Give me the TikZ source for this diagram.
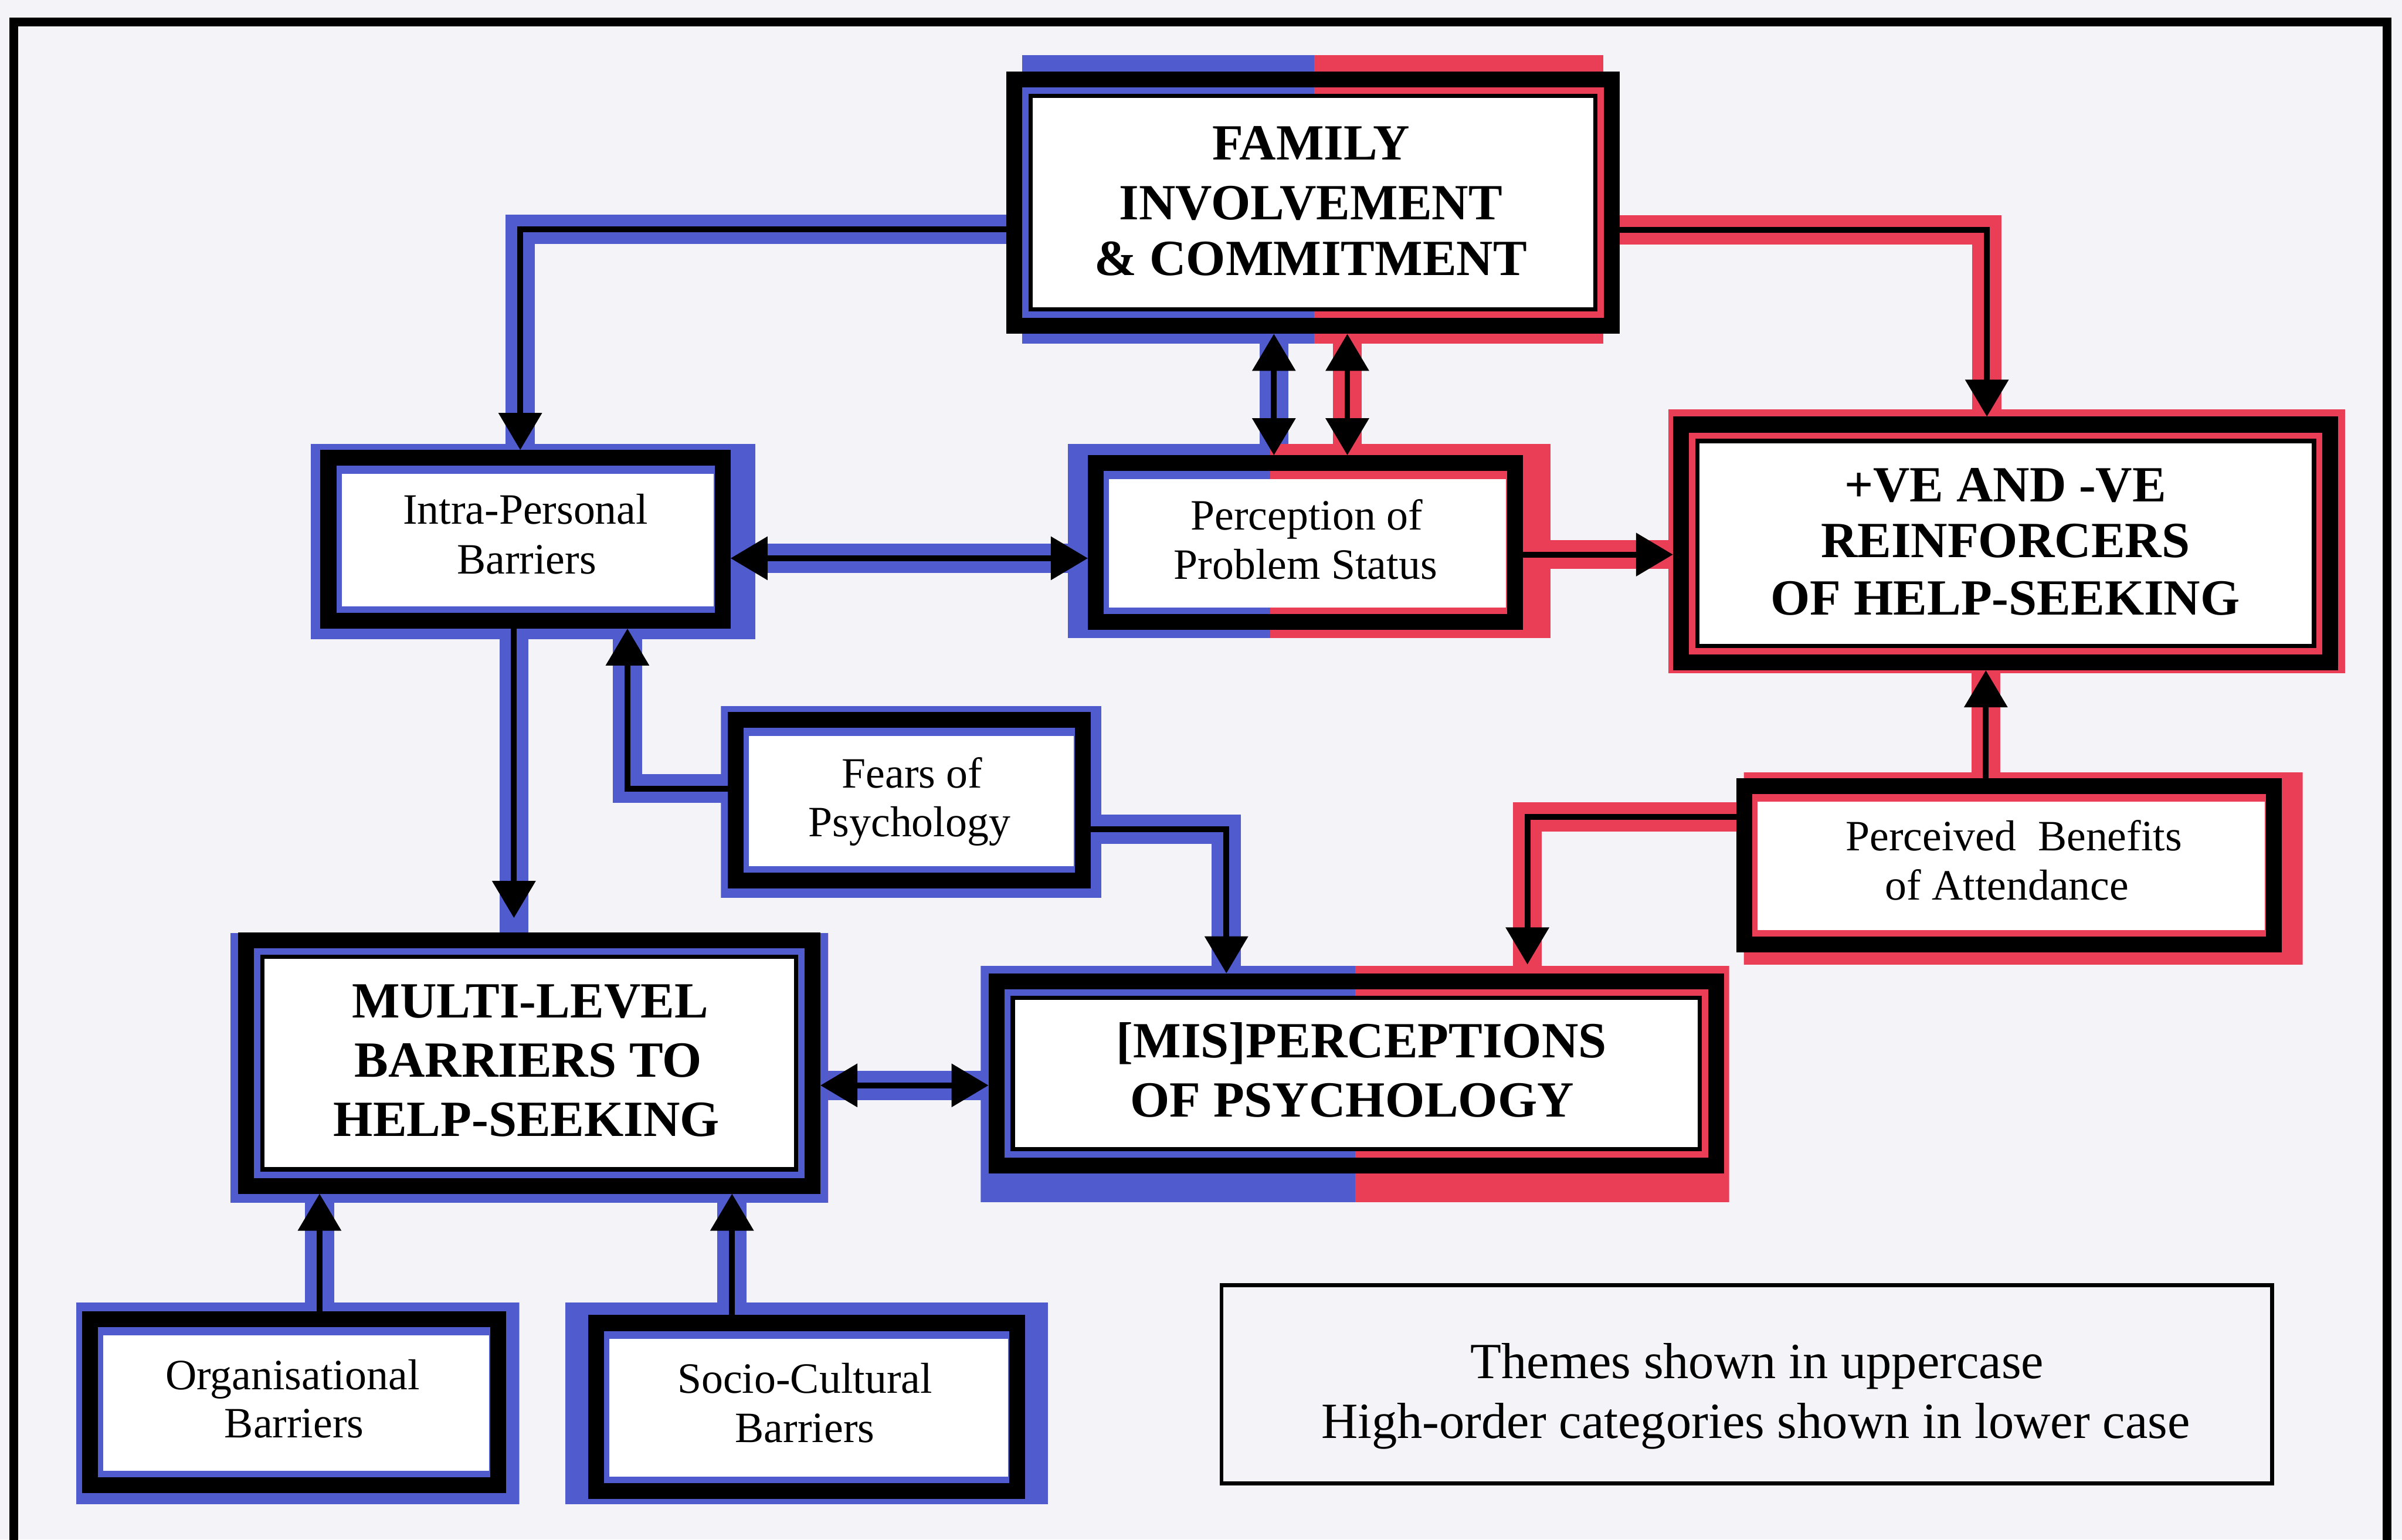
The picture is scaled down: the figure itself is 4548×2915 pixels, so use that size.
\documentclass[tikz,border=0pt]{standalone}
\usepackage{fontspec}
\setmainfont{Liberation Serif}
\usetikzlibrary{arrows.meta}
\definecolor{bcol}{RGB}{80,92,205}
\definecolor{rcol}{RGB}{234,62,86}
\definecolor{bgcol}{RGB}{244,243,248}
\pgfdeclarelayer{bgl}
\pgfdeclarelayer{bandl}
\pgfdeclarelayer{topl}
\pgfsetlayers{bgl,bandl,main,topl}
\newcommand\splitfill[5]{%
  \begin{scope}
    \clip (#1,#2) rectangle (#3,#4);
    \fill[bcol] (#1,#2) rectangle (#5,#4);
    \fill[rcol] (#5,#2) rectangle (#3,#4);
  \end{scope}}
\newcommand\catwhite[1]{%
  \fill[white] ([xshift=0.4cm,yshift=-0.45cm]#1.north west) rectangle ([xshift=-0.32cm,yshift=0.42cm]#1.south east);}
\newcommand\themewhite[1]{%
  \fill[white] ([xshift=0.5cm,yshift=-0.5cm]#1.north west) rectangle ([xshift=-0.5cm,yshift=0.5cm]#1.south east);
  \draw[line width=0.08cm] ([xshift=0.46cm,yshift=-0.46cm]#1.north west) rectangle ([xshift=-0.46cm,yshift=0.46cm]#1.south east);}
\tikzset{
  frameb/.style={draw=black, line width=0.3cm, inner sep=0pt, outer sep=0.15cm, rectangle},
  legbox/.style={draw=black, line width=0.07cm, inner sep=0pt, outer sep=0.035cm, rectangle},
  band/.style={line width=0.55cm},
  core/.style={draw=black, line width=0.11cm},
  tip/.style={-{Triangle[width=0.8cm,length=0.7cm]}},
  tips/.style={{Triangle[width=0.8cm,length=0.7cm]}-{Triangle[width=0.8cm,length=0.7cm]}},
  thtext/.style={font=\bfseries\fontsize{27.3}{32}\selectfont, inner sep=0pt, anchor=base},
  cattext/.style={font=\fontsize{23.3}{28}\selectfont, inner sep=0pt, anchor=base},
  legtext/.style={font=\fontsize{27.3}{32}\selectfont, inner sep=0pt, anchor=base},
}
\begin{document}
\begin{tikzpicture}[x=0.01cm,y=-0.01cm]
\useasboundingbox (0,0) rectangle (4548,2915);
\begin{pgfonlayer}{bgl}
\fill[bgcol] (0,0) rectangle (4548,2915);
\end{pgfonlayer}
\draw[line width=0.17cm] (26,2950) -- (26,42) -- (4520,42) -- (4520,2950);

% FAMILY INVOLVEMENT & COMMITMENT
\splitfill{1935}{104}{3036}{651}{2488}
\splitfill{1906}{136}{3066}{632}{2488}
\node[frameb, minimum width=11.30cm, minimum height=4.66cm] (fam) at (2486,384) {};
\themewhite{fam}
\node[thtext] (fam-t1) at (2482,303) {FAMILY};
\node[thtext] (fam-t2) at (2482,416) {INVOLVEMENT};
\node[thtext] (fam-t3) at (2482,521) {\& COMMITMENT};

% Intra-Personal Barriers
\splitfill{588}{840}{1430}{1210}{5000}
\splitfill{607}{852}{1383}{1190}{5000}
\node[frameb, minimum width=7.46cm, minimum height=3.08cm] (intra) at (995,1021) {};
\catwhite{intra}
\node[cattext] (intra-t1) at (995,992) {Intra-Personal};
\node[cattext] (intra-t2) at (997,1087) {Barriers};

% Perception of Problem Status
\splitfill{2022}{840}{2936}{1208}{2405}
\splitfill{2060}{862}{2883}{1192}{2405}
\node[frameb, minimum width=7.93cm, minimum height=3.00cm] (perc) at (2471.5,1027) {};
\catwhite{perc}
\node[cattext] (perc-t1) at (2474,1003) {Perception of};
\node[cattext] (perc-t2) at (2472,1097) {Problem Status};

% +VE AND -VE REINFORCERS
\splitfill{3159}{775}{4440}{1275}{0}
\splitfill{3168}{789}{4427}{1269}{0}
\node[frameb, minimum width=12.29cm, minimum height=4.50cm] (reinf) at (3797.5,1029) {};
\themewhite{reinf}
\node[thtext] (reinf-t1) at (3797,950) {+VE AND -VE};
\node[thtext] (reinf-t2) at (3797,1055) {REINFORCERS};
\node[thtext] (reinf-t3) at (3797,1164) {OF HELP-SEEKING};

% Fears of Psychology
\splitfill{1365}{1337}{2085}{1700}{5000}
\splitfill{1378}{1348}{2065}{1682}{5000}
\node[frameb, minimum width=6.57cm, minimum height=3.04cm] (fears) at (1721.5,1515) {};
\catwhite{fears}
\node[cattext] (fears-t1) at (1727,1492) {Fears of};
\node[cattext] (fears-t2) at (1722,1584) {Psychology};

% Perceived Benefits of Attendance
\splitfill{3302}{1462}{4360}{1827}{0}
\splitfill{3288}{1473}{4320}{1803}{0}
\node[frameb, minimum width=10.02cm, minimum height=3.00cm] (benef) at (3804,1638) {};
\catwhite{benef}
\node[cattext] (benef-t1) at (3813,1610) {Perceived\ \ Benefits};
\node[cattext] (benef-t2) at (3800,1704) {of Attendance};

% MULTI-LEVEL BARRIERS
\splitfill{436}{1766}{1568}{2277}{5000}
\splitfill{451}{1766}{1553}{2260}{5000}
\node[frameb, minimum width=10.72cm, minimum height=4.64cm] (multi) at (1002,2013) {};
\themewhite{multi}
\node[thtext] (multi-t1) at (1004,1927) {MULTI-LEVEL};
\node[thtext] (multi-t2) at (1000,2039) {BARRIERS TO};
\node[thtext] (multi-t3) at (997,2151) {HELP-SEEKING};

% [MIS]PERCEPTIONS OF PSYCHOLOGY
\splitfill{1857}{1829}{3274}{2276}{2566}
\splitfill{1872}{1843}{3264}{2222}{2566}
\node[frameb, minimum width=13.62cm, minimum height=3.49cm] (mis) at (2568,2032.5) {};
\themewhite{mis}
\node[thtext] (mis-t1) at (2578,2003) {[MIS]PERCEPTIONS};
\node[thtext] (mis-t2) at (2560,2115) {OF PSYCHOLOGY};

% Organisational Barriers
\splitfill{144}{2466}{983}{2848}{5000}
\splitfill{156}{2483}{958}{2827}{5000}
\node[frameb, minimum width=7.72cm, minimum height=3.14cm] (org) at (557,2655) {};
\catwhite{org}
\node[cattext] (org-t1) at (554,2631) {Organisational};
\node[cattext] (org-t2) at (557,2722) {Barriers};

% Socio-Cultural Barriers
\splitfill{1070}{2466}{1984}{2848}{5000}
\splitfill{1114}{2490}{1941}{2838}{5000}
\node[frameb, minimum width=7.97cm, minimum height=3.18cm] (socio) at (1527.5,2664) {};
\catwhite{socio}
\node[cattext] (socio-t1) at (1524,2638) {Socio-Cultural};
\node[cattext] (socio-t2) at (1524,2731) {Barriers};

% Legend
\node[legbox, minimum width=19.88cm, minimum height=3.75cm] (legend) at (3307.5,2621) {};
\node[legtext] (leg-t1) at (3327,2610) {Themes shown in uppercase};
\node[legtext] (leg-t2) at (3324,2723) {High-order categories shown in lower case};

\coordinate (c6end) at (973,1738);
\coordinate (c9end) at (2892,1826);

% coloured bands of the connectors
\begin{pgfonlayer}{bandl}
\draw[band,bcol] (fam.west |- 0,434) -| (985,0 |- intra.north);
\draw[band,rcol] (fam.east |- 0,435) -| (3762,0 |- reinf.north);
\draw[band,bcol] (2412,0 |- fam.south) -- (2412,0 |- perc.north);
\draw[band,rcol] (2551,0 |- fam.south) -- (2551,0 |- perc.north);
\draw[band,bcol] (intra.east |- 0,1057) -- (perc.west |- 0,1057);
\draw[band,rcol] (perc.east |- 0,1050) -- (reinf.west |- 0,1050);
\draw[band,bcol] (973,0 |- intra.south) -- (973,0 |- multi.north);
\draw[band,bcol] (fears.west |- 0,1493) -| (1188,0 |- intra.south);
\draw[band,bcol] (fears.east |- 0,1570) -| (2322,0 |- mis.north);
\draw[band,rcol] (benef.west |- 0,1547) -| (2892,0 |- mis.north);
\draw[band,rcol] (3760,0 |- benef.north) -- (3760,0 |- reinf.south);
\draw[band,bcol] (multi.east |- 0,2055) -- (mis.west |- 0,2055);
\draw[band,bcol] (605,0 |- org.north) -- (605,0 |- multi.south);
\draw[band,bcol] (1386,0 |- socio.north) -- (1386,0 |- multi.south);
\end{pgfonlayer}

% black core lines with arrowheads
\begin{pgfonlayer}{topl}
\draw[core,tip] (fam.west |- 0,434) -| (985,0 |- intra.north);
\draw[core,tip] (fam.east |- 0,435) -| (3762,0 |- reinf.north);
\draw[core,tips] (2412,0 |- fam.south) -- (2412,0 |- perc.north);
\draw[core,tips] (2551,0 |- fam.south) -- (2551,0 |- perc.north);
\draw[core,tips] (intra.east |- 0,1057) -- (perc.west |- 0,1057);
\draw[core,tip] (perc.east |- 0,1050) -- (reinf.west |- 0,1050);
\draw[core,tip] (973,0 |- intra.south) -- (c6end);
\draw[core,tip] (fears.west |- 0,1493) -| (1188,0 |- intra.south);
\draw[core,tip] (fears.east |- 0,1570) -| (2322,0 |- mis.north);
\draw[core,tip] (benef.west |- 0,1547) -| (c9end);
\draw[core,tip] (3760,0 |- benef.north) -- (3760,0 |- reinf.south);
\draw[core,tips] (multi.east |- 0,2055) -- (mis.west |- 0,2055);
\draw[core,tip] (605,0 |- org.north) -- (605,0 |- multi.south);
\draw[core,tip] (1386,0 |- socio.north) -- (1386,0 |- multi.south);
\end{pgfonlayer}
\end{tikzpicture}
\end{document}
